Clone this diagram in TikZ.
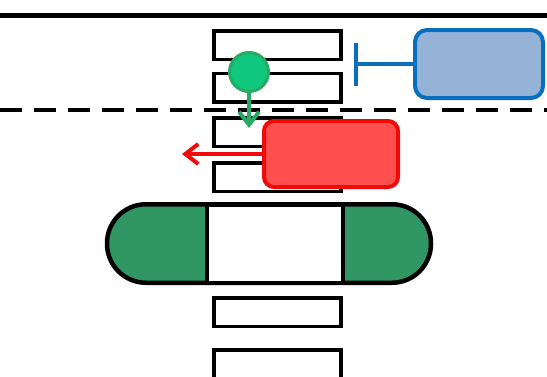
\documentclass[tikz,border=0pt]{standalone}
\usetikzlibrary{arrows.meta}

\definecolor{pillgreen}{RGB}{48,150,100}
\definecolor{dotgreen}{RGB}{16,200,125}
\definecolor{dotedge}{RGB}{40,170,100}
\definecolor{boxred}{RGB}{240,10,10}
\definecolor{fillred}{RGB}{255,80,80}
\definecolor{blueline}{RGB}{10,110,190}
\definecolor{bluefill}{RGB}{149,179,215}

\begin{document}
\begin{tikzpicture}[x=1pt,y=-1pt,
  slot/.style={draw, line width=3.5pt, fill=white, minimum width=127pt, minimum height=28.5pt, inner sep=0pt},
  barb/.style={-{Straight Barb[length=13pt,width=20pt]}, line width=4pt}]
\useasboundingbox (0,0) rectangle (547,376);

\draw[line width=5pt] (0,15) -- (547,15);

\node[slot] (slot1) at (277.5,45) {};
\node[slot] (slot2) at (277.5,87.5) {};

\draw[line width=3.5pt, dash pattern=on 22pt off 12pt] (0,110) -- (547,110);

\node[slot] (slot3) at (277.5,132) {};
\node[slot] (slot4) at (277.5,177) {};
\node[slot] (slot5) at (277.5,312) {};
\node[slot] (slot6) at (277.5,364) {};

\node[draw, line width=4.5pt, fill=pillgreen, rounded corners=39pt, minimum width=324pt, minimum height=78.5pt, inner sep=0pt] (pill) at (269,243.5) {};
\node[draw, line width=4.5pt, fill=white, minimum width=136pt, minimum height=78.5pt, inner sep=0pt] (cab) at (275,243.5) {};

\node[circle, draw=dotedge, fill=dotgreen, line width=3pt, minimum size=39pt, inner sep=0pt] (dot) at (249,72) {};
\coordinate (dotend) at (249,128);
\draw[barb, draw=dotedge] (dot) -- (dotend);

\node[draw=boxred, fill=fillred, line width=4pt, rounded corners=10pt, minimum width=134pt, minimum height=66pt, inner sep=0pt] (redbox) at (331,154) {};
\coordinate (redend) at (182,154);
\draw[barb, draw=boxred] (redbox.west) -- (redend);

\node[draw=blueline, fill=bluefill, line width=4pt, rounded corners=12pt, minimum width=128pt, minimum height=68pt, inner sep=0pt] (bluebox) at (479,64) {};
\coordinate (blueend) at (354,64);
\draw[blueline, line width=4pt, -{Bar[width=43pt]}] (bluebox.west) -- (blueend);
\end{tikzpicture}
\end{document}
